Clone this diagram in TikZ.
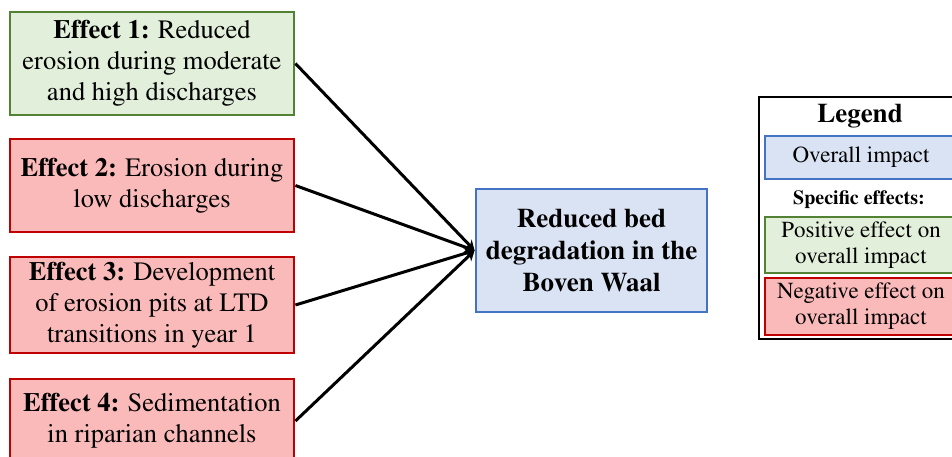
\documentclass[tikz,border=0pt]{standalone}
\usepackage[T1]{fontenc}
\usepackage{mathptmx}
\usetikzlibrary{arrows.meta}
\definecolor{gfill}{HTML}{E2EFDA}
\definecolor{gdraw}{HTML}{548235}
\definecolor{rfill}{HTML}{FBBABA}
\definecolor{rdraw}{HTML}{C00000}
\definecolor{bfill}{HTML}{DAE3F3}
\definecolor{bdraw}{HTML}{4472C4}
\tikzset{
  effbox/.style={draw, line width=2.8pt, inner sep=0pt, align=center,
    minimum width=284pt, font=\fontsize{26.5}{31}\selectfont},
  posbox/.style={effbox, fill=gfill, draw=gdraw},
  negbox/.style={effbox, fill=rfill, draw=rdraw},
  centbox/.style={draw=bdraw, fill=bfill, line width=2.8pt, inner sep=0pt, align=center,
    minimum width=231pt, minimum height=123pt, font=\fontsize{27}{32}\selectfont\bfseries},
  legbox/.style={draw, line width=2.6pt, inner sep=0pt, align=center,
    minimum width=192pt, font=\fontsize{23}{26}\selectfont},
  conn/.style={line width=3pt, -{Stealth[length=10pt,width=11pt]}}
}
\begin{document}
\begin{tikzpicture}[x=1pt,y=-1pt]
\useasboundingbox (0,0) rectangle (952,456);
\node[posbox, minimum height=103pt] (e1) at (152,63.5) {\textbf{Effect 1:} Reduced\\erosion during moderate\\and high discharges};
\node[negbox, minimum height=93pt] (e2) at (152,185.5) {\textbf{Effect 2:} Erosion during\\low discharges};
\node[negbox, minimum height=96pt] (e3) at (152,305) {\textbf{Effect 3:} Development\\of erosion pits at LTD\\transitions in year 1};
\node[negbox, minimum height=84pt] (e4) at (152,421) {\textbf{Effect 4:} Sedimentation\\in riparian channels};
\node[centbox] (c) at (591.5,250.5) {Reduced bed\\degradation in the\\Boven Waal};
\draw[conn] (e1.east) -- (c.west);
\draw[conn] (e2.east) -- (c.west);
\draw[conn] (e3.east) -- (c.west);
\draw[conn] (e4.east) -- (c.west);
% legend
\node[draw=black, line width=2pt, minimum width=204pt, minimum height=242pt, inner sep=0pt] (leg) at (861,218) {};
\node[font=\fontsize{27}{30}\selectfont\bfseries] (legt) at (860,116) {Legend};
\node[legbox, draw=bdraw, fill=bfill, minimum height=43pt] (l1) at (861,157.5) {Overall impact};
\node[font=\fontsize{20}{22}\selectfont\bfseries] (lspec) at (859,200) {Specific effects:};
\node[legbox, draw=gdraw, fill=gfill, minimum height=56pt] (l2) at (861,245) {Positive effect on\\overall impact};
\node[legbox, draw=rdraw, fill=rfill, minimum height=57pt] (l3) at (861,306.5) {Negative effect on\\overall impact};
\end{tikzpicture}
\end{document}
